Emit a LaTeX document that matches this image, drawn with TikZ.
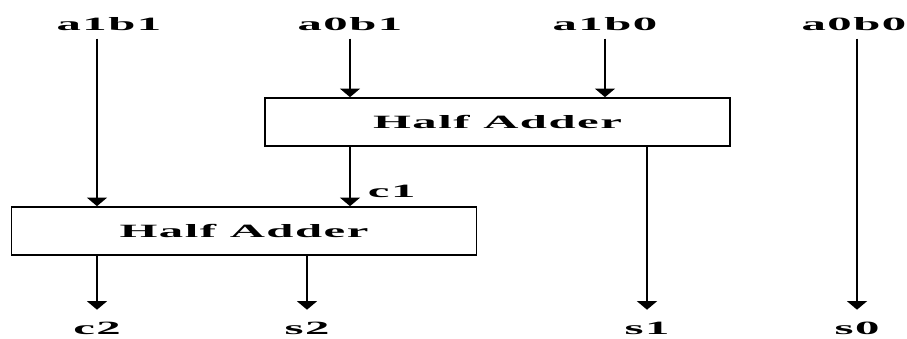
\documentclass[tikz,border=0pt]{standalone}
\usepackage{fontspec}
\setmainfont{Liberation Serif}
\newfontfamily\sigfont[FakeStretch=2.6,LetterSpace=8]{Liberation Serif}
\usetikzlibrary{arrows.meta}

\tikzset{
  sig/.style    = {font=\sigfont\bfseries\fontsize{16}{19}\selectfont, inner sep=0pt},
  insig/.style  = {sig, outer sep=2.4mm},
  outsig/.style = {sig, outer sep=3.6mm},
  adder/.style  = {draw, line width=1.4pt, minimum width=139.5mm,
                   minimum height=14.4mm, inner sep=0pt,
                   font=\sigfont\bfseries\fontsize{16}{19}\selectfont},
  wire/.style   = {line width=2.2pt, -{Triangle[width=6mm,length=2.6mm]}}
}

\begin{document}
\begin{tikzpicture}[x=0.3mm, y=-0.3mm]
  \useasboundingbox (0,0) rectangle (907,339);
  % partial products
  \node[insig] (a1b1) at (109,24) {a1b1};
  \node[insig] (a0b1) at (350,24) {a0b1};
  \node[insig] (a1b0) at (605,24) {a1b0};
  \node[insig] (a0b0) at (854,24) {a0b0};
  % the two half adders
  \node[adder] (ha1) at (497.5,122) {Half Adder};
  \node[adder] (ha2) at (244,231) {Half Adder};
  % product bits
  \node[outsig] (c2) at (97,328) {c2};
  \node[outsig] (s2) at (307,328) {s2};
  \node[outsig] (s1) at (647,328) {s1};
  \node[outsig] (s0) at (857,328) {s0};
  % wires in
  \draw[wire] (a0b1) -- (a0b1 |- ha1.north);
  \draw[wire] (a1b0) -- (a1b0 |- ha1.north);
  \draw[wire] (a1b1.south -| c2) -- (c2 |- ha2.north);
  \draw[wire] (ha1.south -| a0b1) -- (a0b1 |- ha2.north)
    node[sig, pos=0.75, right=5mm] (c1) {c1};
  % wires out
  \draw[wire] (ha2.south -| c2) -- (c2);
  \draw[wire] (ha2.south -| s2) -- (s2);
  \draw[wire] (ha1.south -| s1) -- (s1);
  \draw[wire] (a0b0.south -| s0) -- (s0);
\end{tikzpicture}
\end{document}
